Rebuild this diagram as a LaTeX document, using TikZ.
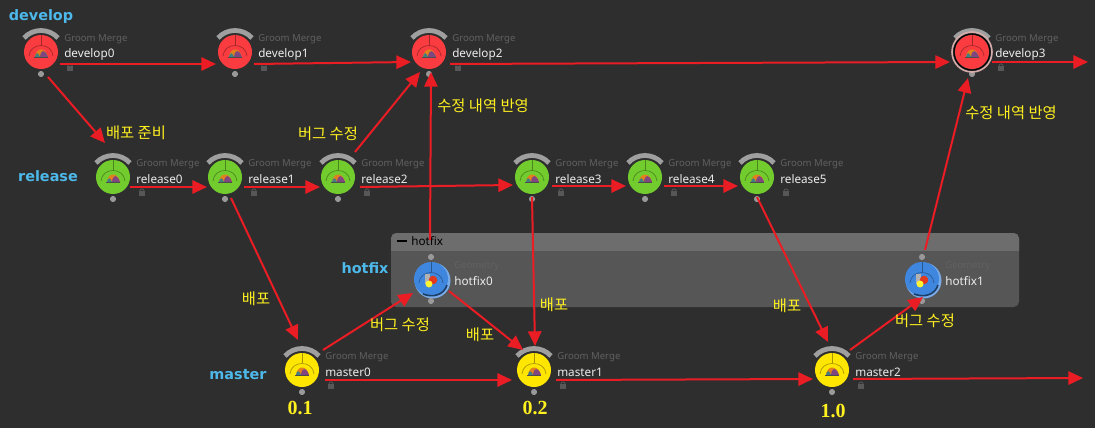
\documentclass[tikz,border=0pt]{standalone}
\usepackage{fontspec}
\setmainfont{Noto Sans}
\newfontfamily\krfont{Noto Sans CJK KR}
\newfontfamily\verfont{Liberation Serif}
\newfontfamily\titlefont{DejaVu Sans}
\usetikzlibrary{arrows.meta}
\definecolor{bgdark}{HTML}{2E2E2E}
\definecolor{devred}{HTML}{FA3C40}
\definecolor{relgreen}{HTML}{72CC2E}
\definecolor{masyellow}{HTML}{FFE600}
\definecolor{hotblue}{HTML}{3F87DE}
\definecolor{flowred}{HTML}{EA1C24}
\definecolor{titleblue}{HTML}{4DB8EA}
\definecolor{notegold}{HTML}{FFF020}
\tikzset{
  flow/.style={draw=flowred,line width=1.5pt,-{Triangle[length=11pt,width=10pt]}},
  houdini/.style={circle,inner sep=0pt,minimum size=25.5pt},
  kindtext/.style={anchor=west,inner sep=0pt,text=gray!62!bgdark,font=\fontsize{7.2}{9}\selectfont},
  nametext/.style={anchor=west,inner sep=0pt,text=gray!15,font=\fontsize{8.8}{10}\selectfont},
  branch/.style={text=titleblue,inner sep=0pt,font=\titlefont\fontsize{10.8}{14}\bfseries\selectfont},
  note/.style={text=notegold,inner sep=0pt,font=\krfont\fontsize{11.5}{14}\selectfont},
  version/.style={text=notegold,inner sep=0pt,font=\verfont\fontsize{15}{17}\bfseries\selectfont}
}
\begin{document}
\begin{tikzpicture}[x=0.75pt,y=-0.75pt]
    % Background
    \fill[bgdark] (0,0) rectangle (1095,428);
    \useasboundingbox (0,0) rectangle (1095,428);

    % Network box
    \fill[rounded corners=4pt,fill=white!19!bgdark] (391,233) rectangle (1019,307);
    \fill[rounded corners=4pt,fill=white!30!bgdark] (391,233) rectangle (1019,256);
    \fill[white!19!bgdark] (391,251) rectangle (1019,260);
    \fill[black] (397,240) rectangle (407,241.5);
    \node[anchor=west,inner sep=0pt,text=black,font=\fontsize{8.8}{10}\selectfont] (hotfix-box) at (411,241) {hotfix};

    % Blue shadow under hotfix nodes
    \foreach \x in {431,922} \fill[hotblue!70!white] (\x+1.5,280.5) circle[radius=13.5pt];

    % Nodes
    \foreach \name/\x/\y/\col/\kind in {develop0/41/52/devred/Groom Merge,develop1/235/52/devred/Groom Merge,develop2/429/52/devred/Groom Merge,develop3/972/52/devred/Groom Merge,release0/113/177/relgreen/Groom Merge,release1/225/177/relgreen/Groom Merge,release2/338/177/relgreen/Groom Merge,release3/532/177/relgreen/Groom Merge,release4/645/177/relgreen/Groom Merge,release5/757/177/relgreen/Groom Merge,hotfix0/431/279/hotblue/Geometry,hotfix1/922/279/hotblue/Geometry,master0/302/370/masyellow/Groom Merge,master1/534/370/masyellow/Groom Merge,master2/832/370/masyellow/Groom Merge} {
        \node[houdini,fill=\col] (\name) at (\x,\y) {};
        \draw[line width=0.5pt,\col!65!black] (\x-12,\y+4) .. controls (\x-11,\y-10) and (\x+11,\y-10) .. (\x+12,\y+4);
        \draw[line width=0.5pt,\col!65!black] (\x,\y-17) -- (\x,\y-7);
        \fill[gray!80] (\x,\y+22) circle[radius=2.3pt];
        \node[kindtext] (\name-kind) at (\x+23,\y-13) {\kind};
        \node[nametext] (\name-name) at (\x+23,\y+2) {\name};
    }

    % Icons, grey bars and locks of the merge nodes
    \foreach \name/\x/\y in {develop0/41/52,develop1/235/52,develop2/429/52,develop3/972/52,release0/113/177,release1/225/177,release2/338/177,release3/532/177,release4/645/177,release5/757/177,master0/302/370,master1/534/370,master2/832/370} {
        \fill[orange!55!brown] (\x-6,\y+5) .. controls (\x-5,\y-5) and (\x+5,\y-5) .. (\x+7,\y+5) -- cycle;
        \fill[violet!45!gray] (\x-1,\y+5) .. controls (\x,\y-3) and (\x+4,\y-3) .. (\x+7,\y+5) -- cycle;
        \fill[teal!50!gray] (\x-6,\y+5) .. controls (\x-5,\y) and (\x-3,\y) .. (\x-1,\y+5) -- cycle;
        \draw[black!70,line width=0.5pt] (\x-7,\y+5.5) -- (\x+7,\y+5.5);
        \draw[gray!75,line width=3.6pt] (\x-17,\y-14) .. controls (\x-8,\y-24) and (\x+8,\y-24) .. (\x+17,\y-14);
        \fill[gray!50!bgdark] (\x+26,\y+14) rectangle (\x+32,\y+19);
        \draw[gray!50!bgdark,line width=0.6pt] (\x+29,\y+14) circle[radius=1.6pt];
    }

    % Icons and top dots of the hotfix nodes
    \foreach \x in {431,922} {
        \draw[hotblue!45!black,line width=1.2pt] (\x+16,285) .. controls (\x+13,295) and (\x+2,298) .. (\x-8,294);
        \fill[gray!80] (\x,257) circle[radius=2.3pt];
        \fill[gray!60] (\x-6,274) rectangle (\x-1,284);
        \fill[red!55!brown] (\x+2,280) circle[radius=3.2pt];
        \fill[yellow!80!white] (\x-2,284) circle[radius=2.6pt];
    }

    % Selected ring on develop3
    \draw[pink!70!gray,line width=1.2pt] (develop3) circle[radius=15pt];
    \draw[black,line width=0.7pt] (develop3) circle[radius=13.5pt];

    % Branch names
    \node[branch] (develop-title) at (41,17) {develop};
    \node[branch] (release-title) at (48,176) {release};
    \node[branch] (hotfix-title) at (365,268) {hotfix};
    \node[branch] (master-title) at (238,375) {master};

    % Free ends
    \coordinate (develop-end) at (1088,62);
    \coordinate (master-end) at (1083,378);

    % Connectors, offsets from the centres of the nodes
    \foreach \a/\ax/\ay/\b/\bx/\by in {develop0/19/12/develop1/-19/12,develop1/19/12/develop2/-18/10,develop2/21/12/develop3/-22/10,develop0/7/25/release0/-8/-34,release0/17/10/release1/-18/10,release1/19/10/release2/-18/10,release2/22/10/release3/-19/8,release3/20/9/release4/-19/9,release4/19/9/release5/-19/9,release1/6/21/master0/-4/-30,release2/17/-25/develop2/-9/20,hotfix0/-1/-39/develop2/2/20,release3/0/20/master1/1/-24,release5/0/20/master2/-4/-28,master0/21/-20/hotfix0/-18/14,hotfix0/18/12/master1/-11/-20,master0/23/10/master1/-22/10,master1/22/10/master2/-19/9,master2/18/-20/hotfix1/1/18,hotfix1/3/-29/develop3/-4/26} {
        \draw[flow] ([shift={(\ax,\ay)}]\a.center) -- ([shift={(\bx,\by)}]\b.center);
    }
    \draw[flow] ([shift={(20,10)}]develop3.center) -- (develop-end);
    \draw[flow] ([shift={(21,9)}]master2.center) -- (master-end);

    % Notes
    \node[note] (note-ready) at (136,133) {배포 준비};
    \node[note] (note-fix-a) at (328,134) {버그 수정};
    \node[note] (note-merge-a) at (483,106) {수정 내역 반영};
    \node[note] (note-merge-b) at (1011,113) {수정 내역 반영};
    \node[note] (note-ship-a) at (256,299) {배포};
    \node[note] (note-fix-b) at (400,325) {버그 수정};
    \node[note] (note-ship-b) at (480,335) {배포};
    \node[note] (note-ship-c) at (554,305) {배포};
    \node[note] (note-ship-d) at (787,306) {배포};
    \node[note] (note-fix-c) at (925,321) {버그 수정};

    % Versions
    \node[version] (version-a) at (300,408) {0.1};
    \node[version] (version-b) at (535,408) {0.2};
    \node[version] (version-c) at (833,411) {1.0};
\end{tikzpicture}
\end{document}
